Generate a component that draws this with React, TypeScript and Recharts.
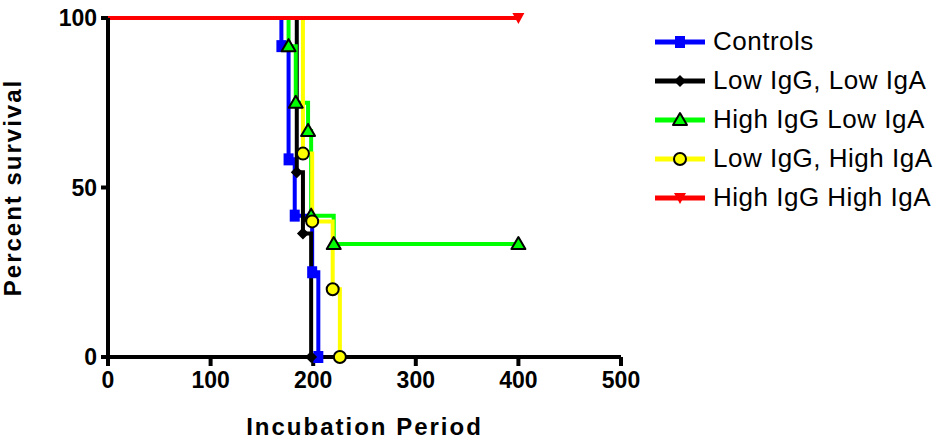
import { LineChart, Line, XAxis, YAxis, Legend } from 'recharts';

// Kaplan-Meier steps (time, % survival)
const controlsTime = [0, 169, 176, 182, 199, 205];
const controlsSurv = [100, 91.7, 58.3, 41.7, 25, 0];

const lowLowTime = [0, 184, 190, 198];
const lowLowSurv = [100, 54.5, 36.4, 0];

const highLowTime = [0, 176, 183, 195, 198, 220, 400];
const highLowSurv = [100, 91.7, 75, 66.7, 41.7, 33.3, 33.3];

const lowHighTime = [0, 190, 199, 219, 226];
const lowHighSurv = [100, 60, 40, 20, 0];

const highHighTime = [0, 400];
const highHighSurv = [100, 100];

const xTicks = [0, 100, 200, 300, 400, 500];
const yTicks = [0, 50, 100];

const toRows = (t: number[], s: number[]) => t.map((v, i) => ({ t: v, s: s[i] }));

type Kind = 'square' | 'diamond' | 'triUp' | 'circle' | 'triDown';

const series: { name: string; color: string; kind: Kind; data: { t: number; s: number }[] }[] = [
  { name: 'Controls', color: '#0000ff', kind: 'square', data: toRows(controlsTime, controlsSurv) },
  { name: 'Low IgG, Low IgA', color: '#000000', kind: 'diamond', data: toRows(lowLowTime, lowLowSurv) },
  { name: 'High IgG Low IgA', color: '#00ff00', kind: 'triUp', data: toRows(highLowTime, highLowSurv) },
  { name: 'Low IgG, High IgA', color: '#ffff00', kind: 'circle', data: toRows(lowHighTime, lowHighSurv) },
  { name: 'High IgG High IgA', color: '#ff0000', kind: 'triDown', data: toRows(highHighTime, highHighSurv) },
];

function marker(kind: Kind, color: string, cx: number, cy: number, key?: string) {
  switch (kind) {
    case 'square':
      return <rect key={key} x={cx - 5} y={cy - 6} width={10} height={12} fill={color} />;
    case 'diamond':
      return <polygon key={key} points={`${cx},${cy - 6} ${cx + 6},${cy} ${cx},${cy + 6} ${cx - 6},${cy}`} fill={color} />;
    case 'triUp':
      return (
        <polygon key={key} points={`${cx},${cy - 7} ${cx + 7},${cy + 5} ${cx - 7},${cy + 5}`}
          fill={color} stroke="#000" strokeWidth={2} strokeLinejoin="round" />
      );
    case 'circle':
      return <circle key={key} cx={cx} cy={cy} r={6} fill={color} stroke="#000" strokeWidth={2} />;
    case 'triDown':
      return <polygon key={key} points={`${cx - 6},${cy - 5} ${cx + 6},${cy - 5} ${cx},${cy + 6}`} fill={color} />;
  }
}

// GraphPad puts a symbol on every event, not on the t=0 start
const makeDot = (kind: Kind, color: string) => (props: any) => {
  const { cx, cy, index } = props;
  if (index === 0) return <g key={`d-${index}`} />;
  return marker(kind, color, cx, cy, `d-${index}`);
};

const renderLegend = () => (
  <div style={{ fontFamily: '"Liberation Sans", Arial, sans-serif', fontSize: 26, letterSpacing: 0.5 }}>
    {series.map((s) => (
      <div key={s.name} style={{ display: 'flex', alignItems: 'center', height: 39 }}>
        <svg width={58} height={20} style={{ flex: 'none' }}>
          <line x1={0} y1={10} x2={50} y2={10} stroke={s.color} strokeWidth={5} />
          {marker(s.kind, s.color, 25, 10)}
        </svg>
        <span style={{ whiteSpace: 'nowrap', lineHeight: '39px' }}>{s.name}</span>
      </div>
    ))}
  </div>
);

const tickStyle = { fill: '#000', fontSize: 23, fontWeight: 700, fontFamily: '"Liberation Sans", Arial, sans-serif' };
const titleStyle = { fill: '#000', fontSize: 24, fontWeight: 700, letterSpacing: 2, fontFamily: '"Liberation Sans", Arial, sans-serif' };

export default function App() {
  return (
    <div style={{ position: 'absolute', left: 0, top: 0, background: '#fff' }}>
      <LineChart width={945} height={443} margin={{ top: 18, right: 324, bottom: 0, left: 0 }}>
        <XAxis
          type="number"
          dataKey="t"
          domain={[0, 500]}
          ticks={xTicks}
          allowDataOverflow
          height={86}
          stroke="#000"
          axisLine={{ stroke: '#000', strokeWidth: 4 }}
          tickLine={{ stroke: '#000', strokeWidth: 4 }}
          tickSize={9}
          tickMargin={6}
          tick={tickStyle}
          label={{ value: 'Incubation Period', position: 'insideBottom', offset: 8, style: titleStyle }}
        />
        <YAxis
          type="number"
          dataKey="s"
          domain={[0, 100]}
          ticks={yTicks}
          width={108}
          stroke="#000"
          axisLine={{ stroke: '#000', strokeWidth: 4 }}
          tickLine={{ stroke: '#000', strokeWidth: 4 }}
          tickSize={7}
          tickMargin={4}
          tick={tickStyle}
          label={{ value: 'Percent survival', angle: -90, position: 'insideLeft', offset: 12, style: { ...titleStyle, textAnchor: 'middle' } }}
        />
        <Legend
          content={renderLegend}
          layout="vertical"
          verticalAlign="middle"
          align="center"
          wrapperStyle={{ position: 'absolute', top: 22, left: 655, width: 290 }}
        />
        {series.map((s) => (
          <Line
            key={s.name}
            data={s.data}
            dataKey="s"
            name={s.name}
            type="stepAfter"
            stroke={s.color}
            strokeWidth={4}
            dot={makeDot(s.kind, s.color)}
            activeDot={false}
            isAnimationActive={false}
          />
        ))}
      </LineChart>
    </div>
  );
}
